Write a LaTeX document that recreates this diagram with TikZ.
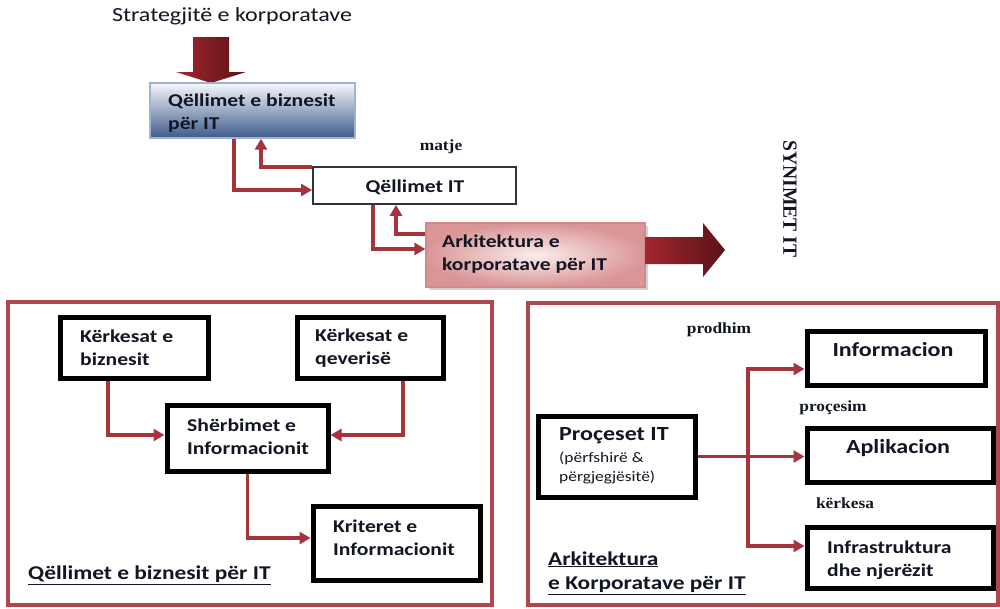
\documentclass[tikz,border=0pt]{standalone}
\usepackage{fontspec}
\setmainfont{Liberation Serif}
\newfontfamily\calfont{Carlito}[FakeStretch=1.2]
\newfontfamily\serfont{Liberation Serif}[FakeStretch=1.12]
\usetikzlibrary{arrows.meta,shadows}
\definecolor{conred}{HTML}{A5343C}
\definecolor{panelred}{HTML}{B0474E}
\definecolor{txtdark}{HTML}{111622}
\definecolor{goaltop}{HTML}{F6F7FA}
\definecolor{goalbot}{HTML}{3D5B8C}
\definecolor{goaledge}{HTML}{9FB2CF}
\definecolor{eaouter}{HTML}{DA9597}
\definecolor{eainner}{HTML}{FBEDED}
\definecolor{eaedge}{HTML}{CF8A8C}
\definecolor{bigA}{HTML}{A3262F}
\definecolor{bigB}{HTML}{5A1217}
\tikzset{
  con/.style={draw=conred, line width=3.6pt, -{Triangle[length=11pt,width=12pt]}},
  thickbox/.style={draw=black, line width=5pt, fill=white, inner sep=0pt},
  boxtxt/.style={font=\calfont\bfseries\fontsize{18}{23}\selectfont, align=left,
    inner sep=0pt, anchor=west, text=txtdark},
  lbl/.style={font=\serfont\bfseries\fontsize{15.5}{18}\selectfont, inner sep=0pt, text=txtdark},
  panel/.style={draw=panelred, line width=3.4pt},
}
\begin{document}
\begin{tikzpicture}[x=1pt,y=-1pt]
\useasboundingbox[fill=white] (0,0) rectangle (1000,608);

% ---------- upper chain ----------
\node[font=\calfont\fontsize{20}{24}\selectfont, text=txtdark, inner sep=0pt] (strat) at (232,16) {Strategjitë e korporatave};

\shade[left color=bigA, right color=bigB]
  (193,37) -- (229,37) -- (229,72) -- (246,72) -- (211,83) -- (176,72) -- (193,72) -- cycle;

\node[draw=goaledge, line width=1.4pt, top color=goaltop, bottom color=goalbot,
      minimum width=205pt, minimum height=55pt, inner sep=0pt] (bg) at (252.5,110.5) {};
\node[boxtxt] at (168,113) {Qëllimet e biznesit\\për IT};

\node[draw=black!80, line width=1.8pt, fill=white, minimum width=203pt, minimum height=37pt,
      inner sep=0pt] (itg) at (414.5,185.5) {};
\node[boxtxt, anchor=center] at (415,187) {Qëllimet IT};

\node[draw=eaedge, line width=1.2pt, shading=radial, inner color=eainner, outer color=eaouter,
      minimum width=219pt, minimum height=64pt, inner sep=0pt,
      drop shadow={shadow xshift=2.5pt, shadow yshift=-2.5pt, opacity=.35}] (ea) at (535.5,255) {};
\node[boxtxt] at (442,254) {Arkitektura e\\korporatave për IT};

\shade[left color=bigA, right color=bigB]
  (645,237) -- (703,237) -- (703,223) -- (725,250) -- (703,277) -- (703,264) -- (645,264) -- cycle;

\node[lbl] (matje) at (441,147) {matje};
\node[font=\serfont\bfseries\fontsize{17.5}{20}\selectfont, text=txtdark, inner sep=0pt,
      xscale=1.15, rotate=-90] (syn) at (790,199) {SYNIMET IT};

\coordinate (xa) at (234,0);
\coordinate (xb) at (261,0);
\coordinate (xc) at (373,0);
\coordinate (xd) at (396,0);
\draw[con] (bg.south -| xa) |- ([yshift=-4.5pt]itg.west);
\draw[con] ([yshift=-1pt]itg.north west) -| (bg.south -| xb);
\draw[con] (itg.south -| xc) |- ([yshift=6pt]ea.west);
\draw[con] ([yshift=21pt]ea.west) -| (itg.south -| xd);

% ---------- business goals panel ----------
\draw[panel] (8,302) rectangle (492,605);

\node[thickbox, minimum width=148pt, minimum height=61pt] (kb) at (134,347.5) {};
\node[boxtxt] at (80,348) {Kërkesat e\\biznesit};
\node[thickbox, minimum width=146pt, minimum height=61pt] (kq) at (370,347.5) {};
\node[boxtxt] at (315,348) {Kërkesat e\\qeverisë};
\node[thickbox, minimum width=161pt, minimum height=66pt] (sh) at (247.5,438) {};
\node[boxtxt] at (187,437) {Shërbimet e\\Informacionit};
\node[thickbox, minimum width=167pt, minimum height=74pt] (kr) at (396.5,543) {};
\node[boxtxt] at (333,538) {Kriteret e\\Informacionit};

\coordinate (xe) at (108,0);
\coordinate (xf) at (403,0);
\draw[con] (kb.south -| xe) |- ([yshift=3pt]sh.west);
\draw[con] (kq.south -| xf) |- ([yshift=3pt]sh.east);
\draw[con] (sh.south) |- ([yshift=5pt]kr.west);

\node[font=\calfont\bfseries\fontsize{19.5}{24}\selectfont, text=txtdark, inner sep=0pt, anchor=west]
  (bgtitle) at (28,575) {\underline{Qëllimet e biznesit për IT}};

% ---------- enterprise architecture panel ----------
\draw[panel] (528,303) rectangle (998,605);

\node[thickbox, minimum width=157pt, minimum height=81pt] (pit) at (616.5,456.5) {};
\node[font=\calfont\bfseries\fontsize{20}{24}\selectfont, text=txtdark, inner sep=0pt, anchor=west]
  at (559,436) {Proçeset IT};
\node[font=\calfont\fontsize{14.5}{19}\selectfont, text=txtdark, inner sep=0pt, anchor=west, align=left]
  at (559,468) {(përfshirë \&\\përgjegjësitë)};

\node[thickbox, minimum width=178pt, minimum height=54pt] (inf) at (896,358) {};
\node[font=\calfont\bfseries\fontsize{20}{24}\selectfont, text=txtdark, inner sep=0pt] at (893,350) {Informacion};
\node[thickbox, minimum width=186pt, minimum height=54pt] (app) at (900,455) {};
\node[font=\calfont\bfseries\fontsize{20}{24}\selectfont, text=txtdark, inner sep=0pt] at (898,448) {Aplikacion};
\node[thickbox, minimum width=186pt, minimum height=61pt] (infra) at (900,557.5) {};
\node[boxtxt] at (827,560) {Infrastruktura\\dhe njerëzit};

\node[lbl] (prodhim) at (719,330) {prodhim};
\node[lbl] (procesim) at (833,408) {proçesim};
\node[lbl] (kerkesa) at (845,503) {kërkesa};

\coordinate (xg) at (748,0);
\draw[con] (pit.east) -- (pit.east -| app.west);
\draw[con] (pit.east -| xg) |- ([yshift=-11pt]inf.west);
\draw[con] (pit.east -| xg) |- ([yshift=11.5pt]infra.west);

\node[font=\calfont\bfseries\fontsize{19.5}{24.5}\selectfont, text=txtdark, inner sep=0pt, anchor=west, align=left]
  (eatitle) at (548,573) {\underline{Arkitektura}\\\underline{e Korporatave për IT}};
\end{tikzpicture}
\end{document}
